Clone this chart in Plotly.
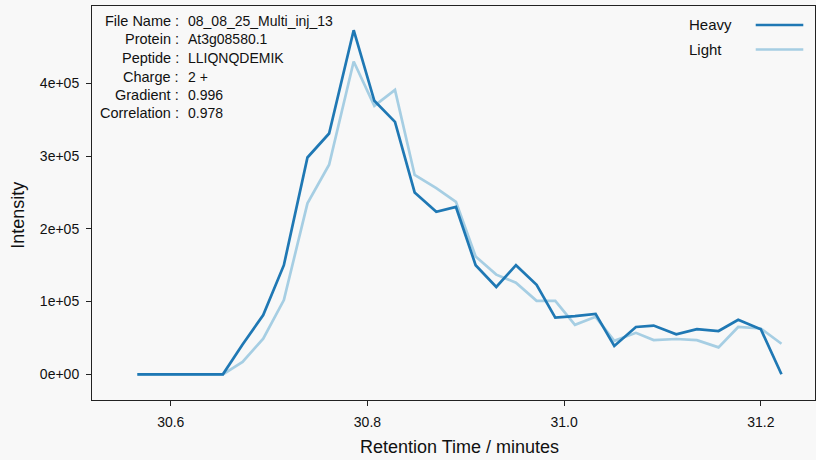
import plotly.graph_objects as go

# ---- data ----
retention_time = [30.566, 30.588, 30.609, 30.630, 30.653, 30.673, 30.694, 30.715,
                  30.739, 30.761, 30.786, 30.807, 30.828, 30.848, 30.870, 30.890,
                  30.910, 30.931, 30.951, 30.972, 30.991, 31.011, 31.032, 31.051,
                  31.073, 31.091, 31.114, 31.135, 31.157, 31.177, 31.200, 31.221]
heavy = [0, 0, 0, 0, 0, 41000, 81500, 150000, 298000, 331000, 473000, 376000,
         347000, 250000, 223500, 230000, 150000, 120000, 150000, 123000, 78000,
         80000, 83000, 39000, 65000, 67000, 55000, 62000, 59500, 75000, 62000, 0]
light = [0, 0, 0, 0, 0, 17000, 49000, 102000, 235000, 288000, 430000, 369000,
         391000, 274000, 256000, 237000, 162000, 137000, 126000, 101000, 101000,
         68000, 79000, 46000, 57000, 47000, 48500, 47000, 37000, 65000, 63000, 42000]

x_ticks = [30.6, 30.8, 31.0, 31.2]
x_tick_labels = ["30.6", "30.8", "31.0", "31.2"]
y_ticks = [0, 100000, 200000, 300000, 400000]
y_tick_labels = ["0e+00", "1e+05", "2e+05", "3e+05", "4e+05"]

info_labels = ["File Name :", "Protein :", "Peptide :", "Charge :", "Gradient :", "Correlation :"]
info_values = ["08_08_25_Multi_inj_13", "At3g08580.1", "LLIQNQDEMIK", "2 +", "0.996", "0.978"]

series_names = ["Heavy", "Light"]
HEAVY_COLOR = "#1f78b4"
LIGHT_COLOR = "#a6cee3"
BG = "#f8f8f8"
FONT = "Liberation Sans, Arial, Helvetica, sans-serif"

fig = go.Figure()
fig.add_trace(go.Scatter(x=retention_time, y=light, mode="lines", name=series_names[1],
                         line=dict(color=LIGHT_COLOR, width=2.7), showlegend=False))
fig.add_trace(go.Scatter(x=retention_time, y=heavy, mode="lines", name=series_names[0],
                         line=dict(color=HEAVY_COLOR, width=2.7), showlegend=False))

annotations = []
info_y = [0.962, 0.9155, 0.8688, 0.8206, 0.7741, 0.7277]
for lab, val, yy in zip(info_labels, info_values, info_y):
    annotations.append(dict(x=0.1227, y=yy, xref="paper", yref="paper", text=lab,
                            showarrow=False, xanchor="right", yanchor="middle",
                            font=dict(size=14.5, color="#111", family=FONT)))
    annotations.append(dict(x=0.1300, y=yy, xref="paper", yref="paper", text=val,
                            showarrow=False, xanchor="left", yanchor="middle",
                            font=dict(size=14, color="#111", family=FONT)))

# manual legend (text left, line sample right)
legend_y = [0.9518, 0.8896]
legend_colors = [HEAVY_COLOR, LIGHT_COLOR]
shapes = []
for name, col, yy in zip(series_names, legend_colors, legend_y):
    annotations.append(dict(x=0.8233, y=yy, xref="paper", yref="paper", text=name,
                            showarrow=False, xanchor="left", yanchor="middle",
                            font=dict(size=15, color="#111", family=FONT)))
    shapes.append(dict(type="line", xref="paper", yref="paper", x0=0.918, x1=0.9838,
                       y0=yy, y1=yy, line=dict(color=col, width=2.7)))

# axis titles
annotations.append(dict(x=0.5088, y=-0.1193, xref="paper", yref="paper",
                        text="Retention Time / minutes", showarrow=False,
                        xanchor="center", yanchor="middle",
                        font=dict(size=18, color="#111", family=FONT)))
annotations.append(dict(x=-0.1028, y=0.4695, xref="paper", yref="paper",
                        text="Intensity", showarrow=False, textangle=-90,
                        xanchor="center", yanchor="middle",
                        font=dict(size=18, color="#111", family=FONT)))

fig.update_layout(
    width=816, height=460,
    margin=dict(l=92, r=1, t=6, b=60),
    paper_bgcolor=BG, plot_bgcolor=BG,
    font=dict(family=FONT, size=14, color="#111"),
    showlegend=False,
    annotations=annotations,
    shapes=shapes,
)
fig.update_xaxes(range=[30.5199, 31.2551], tickvals=x_ticks, ticktext=x_tick_labels,
                 showgrid=False, zeroline=False, showline=True, linecolor="#222",
                 linewidth=1, mirror=True, ticks="outside", ticklen=5, tickcolor="#222",
                 tickfont=dict(size=14, color="#111"), ticklabelstandoff=4)
fig.update_yaxes(range=[-35330, 506250], tickvals=y_ticks, ticktext=y_tick_labels,
                 showgrid=False, zeroline=False, showline=True, linecolor="#222",
                 linewidth=1, mirror=True, ticks="outside", ticklen=5, tickcolor="#222",
                 tickfont=dict(size=14, color="#111"), ticklabelstandoff=4)

fig.write_html("out.html", config={"displayModeBar": False},
               post_script="document.body.style.margin='0';document.body.style.overflow='hidden';document.body.style.background='#f8f8f8';")
